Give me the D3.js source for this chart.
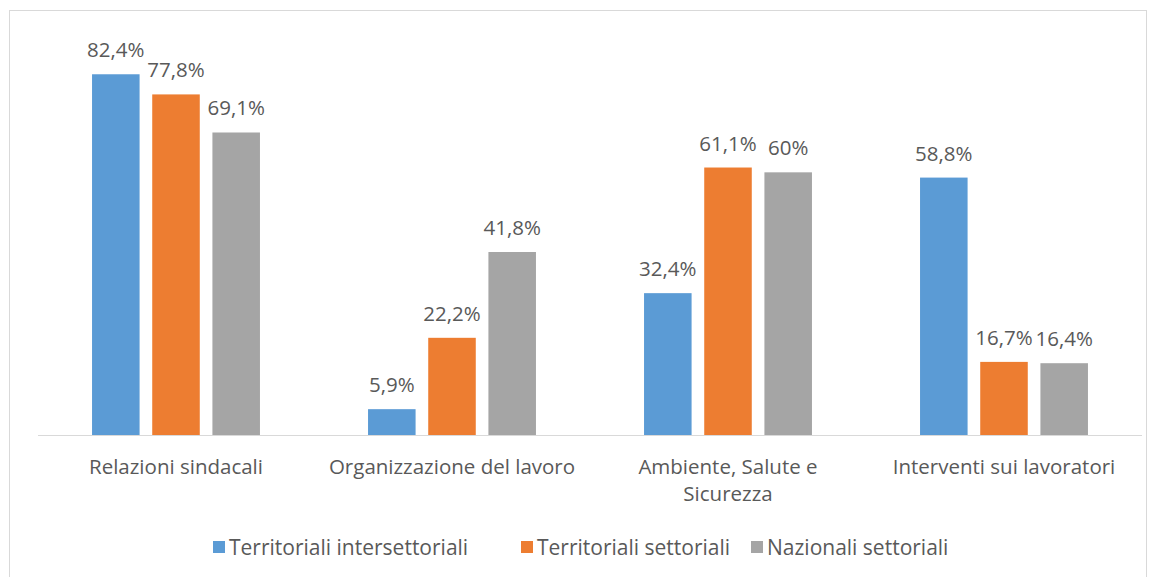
<!DOCTYPE html>
<html>
<head>
<meta charset="utf-8">
<script src="https://cdn.jsdelivr.net/npm/d3@7"></script>
<style>
  body { margin: 0; background: #fff; }
  svg text { font-family: "Open Sans", "Noto Sans", sans-serif; fill: #595959; }
</style>
</head>
<body>
<div id="chart"></div>
<script>
// Categories and series
const categories = ["Relazioni sindacali", "Organizzazione del lavoro", "Ambiente, Salute e Sicurezza", "Interventi sui lavoratori"];
const categoryLines = [["Relazioni sindacali"], ["Organizzazione del lavoro"], ["Ambiente, Salute e", "Sicurezza"], ["Interventi sui lavoratori"]];
const seriesNames = ["Territoriali intersettoriali", "Territoriali settoriali", "Nazionali settoriali"];
const territorialiIntersettoriali = [82.4, 5.9, 32.4, 58.8];
const territorialiSettoriali = [77.8, 22.2, 61.1, 16.7];
const nazionaliSettoriali = [69.1, 41.8, 60.0, 16.4];
const colors = ["#5b9bd5", "#ed7d31", "#a5a5a5"];

const seriesValues = [territorialiIntersettoriali, territorialiSettoriali, nazionaliSettoriali];

const width = 1157, height = 577;
const margin = { left: 38, right: 15, top: 41, bottom: 142 };
const fontSize = 20.5;

const svg = d3.select("#chart").append("svg")
    .attr("width", width)
    .attr("height", height);

// Outer chart border
svg.append("rect")
    .attr("x", 9.5).attr("y", 10.5)
    .attr("width", 1137).attr("height", 580)
    .attr("fill", "none")
    .attr("stroke", "#d9d9d9");

const x0 = d3.scaleBand()
    .domain(categories)
    .range([margin.left, width - margin.right])
    .paddingInner(0.3).paddingOuter(0.15);

const x1 = d3.scaleBand()
    .domain(seriesNames)
    .range([0, x0.bandwidth()])
    .padding(0.21);

const y = d3.scaleLinear()
    .domain([0, 90])
    .range([height - margin.bottom, margin.top]);

// Bars
const groups = svg.append("g").selectAll("g")
    .data(categories)
    .join("g")
    .attr("transform", d => `translate(${x0(d)},0)`);

groups.selectAll("rect")
    .data((c, i) => seriesNames.map((s, j) => ({ s, j, v: seriesValues[j][i] })))
    .join("rect")
    .attr("x", d => x1(d.s))
    .attr("width", x1.bandwidth())
    .attr("y", d => y(d.v))
    .attr("height", d => y(0) - y(d.v))
    .attr("fill", d => colors[d.j]);

// Value labels
groups.selectAll("text")
    .data((c, i) => seriesNames.map((s, j) => ({ s, j, v: seriesValues[j][i] })))
    .join("text")
    .attr("x", d => x1(d.s) + x1.bandwidth() / 2)
    .attr("y", d => y(d.v) - 17)
    .attr("text-anchor", "middle")
    .attr("font-size", fontSize)
    .text(d => String(d.v).replace(".", ",") + "%");

// Baseline
svg.append("line")
    .attr("x1", margin.left).attr("x2", width - margin.right)
    .attr("y1", y(0) + 0.5).attr("y2", y(0) + 0.5)
    .attr("stroke", "#d9d9d9");

// Category labels
categories.forEach((c, i) => {
    const t = svg.append("text")
        .attr("x", x0(c) + x0.bandwidth() / 2)
        .attr("y", y(0) + 39)
        .attr("text-anchor", "middle")
        .attr("font-size", fontSize);
    categoryLines[i].forEach((line, k) => {
        t.append("tspan")
            .attr("x", x0(c) + x0.bandwidth() / 2)
            .attr("dy", k === 0 ? 0 : 27)
            .text(line);
    });
});

// Legend
const legendX = [213, 521, 751];
const legend = svg.append("g").selectAll("g")
    .data(seriesNames)
    .join("g")
    .attr("transform", (d, i) => `translate(${legendX[i]},541)`);

legend.append("rect")
    .attr("width", 12).attr("height", 12)
    .attr("fill", (d, i) => colors[i]);

legend.append("text")
    .attr("x", 16).attr("y", 14)
    .attr("font-size", 21)
    .text(d => d);
</script>
</body>
</html>
